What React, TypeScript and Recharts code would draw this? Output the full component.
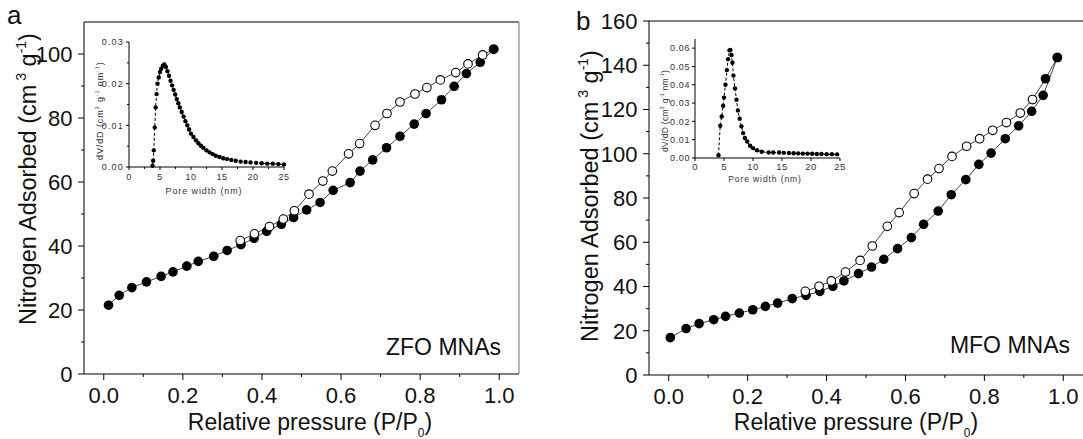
import React from "react";
import { LineChart, Line, XAxis, YAxis, ReferenceLine, Label } from "recharts";

const FONT = "'Liberation Sans', Arial, Helvetica, sans-serif";

// panel a: ZFO MNAs isotherm
const zfoAdsP = [0.012, 0.039, 0.071, 0.108, 0.145, 0.175, 0.21, 0.239, 0.278, 0.312, 0.347, 0.38, 0.412, 0.449, 0.48, 0.513, 0.547, 0.58, 0.623, 0.648, 0.68, 0.715, 0.749, 0.785, 0.815, 0.854, 0.886, 0.917, 0.952, 0.986];
const zfoAdsV = [21.5, 24.6, 27.0, 28.8, 30.5, 31.9, 33.7, 35.2, 36.8, 38.6, 40.4, 42.4, 44.6, 46.8, 48.9, 51.3, 53.6, 57.4, 59.8, 63.4, 66.9, 70.7, 74.3, 78.1, 81.4, 85.7, 89.9, 93.9, 97.4, 101.5];
const zfoDesP = [0.986, 0.958, 0.921, 0.89, 0.851, 0.817, 0.787, 0.749, 0.716, 0.686, 0.647, 0.619, 0.578, 0.554, 0.519, 0.482, 0.454, 0.419, 0.381, 0.345];
const zfoDesV = [101.5, 99.7, 96.9, 94.2, 91.9, 89.5, 87.5, 85.0, 81.4, 77.7, 72.0, 68.8, 63.4, 60.3, 56.2, 51.0, 48.4, 46.1, 43.8, 41.7];
const zfoDesShared = 1; // first desorption points drawn filled

// panel b: MFO MNAs isotherm
const mfoAdsP = [0.004, 0.044, 0.077, 0.114, 0.144, 0.179, 0.213, 0.245, 0.276, 0.313, 0.348, 0.383, 0.416, 0.444, 0.481, 0.514, 0.545, 0.58, 0.615, 0.646, 0.683, 0.716, 0.753, 0.786, 0.817, 0.853, 0.887, 0.92, 0.949, 0.985];
const mfoAdsV = [16.9, 21.0, 23.2, 25.0, 26.5, 28.0, 29.5, 31.0, 32.5, 34.5, 36.0, 37.8, 40.1, 42.5, 45.8, 48.8, 52.3, 57.1, 62.1, 68.1, 74.1, 81.5, 88.3, 95.2, 100.3, 106.8, 112.6, 119.2, 126.4, 143.5];
const mfoDesP = [0.985, 0.955, 0.922, 0.891, 0.856, 0.821, 0.788, 0.755, 0.718, 0.685, 0.656, 0.622, 0.584, 0.554, 0.516, 0.485, 0.448, 0.412, 0.381, 0.346];
const mfoDesV = [143.5, 133.9, 124.5, 118.4, 114.1, 110.6, 106.8, 103.4, 98.8, 93.3, 88.5, 82.0, 73.4, 67.2, 58.3, 51.8, 46.5, 42.5, 40.1, 37.8];
const mfoDesShared = 2;

// insets: pore size distribution
const zfoPoreW = [3.8, 3.9, 4.0, 4.15, 4.3, 4.45, 4.6, 4.8, 5.0, 5.2, 5.45, 5.7, 5.95, 6.2, 6.45, 6.7, 6.95, 7.2, 7.45, 7.7, 7.95, 8.2, 8.5, 8.8, 9.1, 9.4, 9.7, 10.0, 10.4, 10.8, 11.2, 11.6, 12.0, 12.5, 13.0, 13.5, 14.0, 14.6, 15.2, 15.8, 16.5, 17.2, 18.0, 18.8, 19.6, 20.5, 21.4, 22.3, 23.2, 24.1, 25.0];
const zfoPoreD = [0.0003, 0.0015, 0.004, 0.0095, 0.0143, 0.0175, 0.02, 0.0215, 0.0228, 0.0236, 0.0243, 0.0246, 0.024, 0.023, 0.0219, 0.0207, 0.0196, 0.0185, 0.0174, 0.0163, 0.0153, 0.0143, 0.0132, 0.0121, 0.011, 0.01, 0.009, 0.008, 0.0072, 0.0064, 0.0057, 0.0051, 0.0046, 0.004, 0.0035, 0.0031, 0.0027, 0.0024, 0.0021, 0.0019, 0.0017, 0.0015, 0.0013, 0.0012, 0.0011, 0.001, 0.0009, 0.0008, 0.0008, 0.0007, 0.0006];
const mfoPoreW = [4.05, 4.35, 4.6, 4.85, 5.0, 5.25, 5.5, 5.7, 5.95, 6.1, 6.3, 6.45, 6.62, 6.9, 7.15, 7.4, 7.7, 8.0, 8.3, 8.6, 9.0, 9.5, 10.0, 10.7, 11.5, 12.7, 13.5, 14.5, 15.3, 16.2, 17.0, 17.8, 18.6, 19.4, 20.2, 21.0, 21.8, 22.7, 23.6, 24.5];
const mfoPoreD = [0.0015, 0.0176, 0.0227, 0.0285, 0.033, 0.04, 0.048, 0.054, 0.0588, 0.059, 0.0563, 0.052, 0.045, 0.038, 0.0318, 0.026, 0.0215, 0.0173, 0.0136, 0.0109, 0.009, 0.0067, 0.0054, 0.0042, 0.0034, 0.003, 0.003, 0.003, 0.0028, 0.0027, 0.0026, 0.0025, 0.0024, 0.0024, 0.0023, 0.0022, 0.0022, 0.0021, 0.0021, 0.002];

// ticks (majors get labels, the rest are minor)
const pressureTicks = [0, 0.1, 0.2, 0.3, 0.4, 0.5, 0.6, 0.7, 0.8, 0.9, 1.0];
const zfoVolTicks = [0, 10, 20, 30, 40, 50, 60, 70, 80, 90, 100];
const mfoVolTicks = [0, 10, 20, 30, 40, 50, 60, 70, 80, 90, 100, 110, 120, 130, 140, 150, 160];
const zfoWidthTicks = [0, 2.5, 5, 7.5, 10, 12.5, 15, 17.5, 20, 22.5, 25];
const zfoDvTicks = [0, 0.005, 0.01, 0.015, 0.02, 0.025, 0.03];
const mfoWidthTicks = [0, 5, 10, 15, 20, 25];
const mfoDvTicks = [0, 0.01, 0.02, 0.03, 0.04, 0.05, 0.06];

const zip = (xs: number[], ys: number[]) => xs.map((x, i) => ({ x, y: ys[i] }));

const isMajor = (v: number, step: number) => Math.abs(v / step - Math.round(v / step)) < 1e-6;

type TickOpts = { step: number; len: number; minor: number; size: number; gap: number; color: string; digits: number; spacing?: number };

const bottomTick = (o: TickOpts) => (p: any) => {
  const v = p.payload.value;
  const major = isMajor(v, o.step);
  return (
    <g>
      <line x1={p.x} x2={p.x} y1={p.y} y2={p.y + (major ? o.len : o.minor)} stroke="#000" strokeWidth={1} />
      {major && (
        <text x={p.x} y={p.y + o.gap} textAnchor="middle" fontSize={o.size} fontFamily={FONT} fill={o.color} letterSpacing={o.spacing}>
          {v.toFixed(o.digits)}
        </text>
      )}
    </g>
  );
};

const leftTick = (o: TickOpts) => (p: any) => {
  const v = p.payload.value;
  const major = isMajor(v, o.step);
  return (
    <g>
      <line x1={p.x} x2={p.x - (major ? o.len : o.minor)} y1={p.y} y2={p.y} stroke="#000" strokeWidth={1} />
      {major && (
        <text x={p.x - o.gap} y={p.y + o.size * 0.36} textAnchor="end" fontSize={o.size} fontFamily={FONT} fill={o.color} letterSpacing={o.spacing}>
          {v.toFixed(o.digits)}
        </text>
      )}
    </g>
  );
};

const filledDot = (r: number) => (p: any) => <circle key={p.index} cx={p.cx} cy={p.cy} r={r} fill="#000" />;
const openDot = (shared: number) => (p: any) =>
  p.index < shared ? (
    <circle key={p.index} cx={p.cx} cy={p.cy} r={4.8} fill="#000" />
  ) : (
    <circle key={p.index} cx={p.cx} cy={p.cy} r={4.3} fill="#fff" stroke="#000" strokeWidth={1.1} />
  );

const volumeTitle = (x: number, y: number) => () => (
  <text transform={`translate(${x},${y}) rotate(-90)`} fontSize={23.5} fontFamily={FONT} fill="#111">
    Nitrogen Adsorbed (cm
    <tspan dy={-10} fontSize={14}> 3</tspan>
    <tspan dy={10}> g</tspan>
    <tspan dy={-10} fontSize={14}>-1</tspan>
    <tspan dy={10}>)</tspan>
  </text>
);

const pressureTitle = (cx: number, note: string, nx: number, ny: number, letter: string, lx: number, ly: number) => () => (
  <g fontFamily={FONT} fill="#111">
    <text x={cx} y={430} textAnchor="middle" fontSize={23}>
      Relative pressure (P/P
      <tspan dy={7} fontSize={12}>0</tspan>
      <tspan dy={-7}>)</tspan>
    </text>
    <text x={nx} y={ny} textAnchor="end" fontSize={23}>{note}</text>
    <text x={lx} y={ly} fontSize={26}>{letter}</text>
  </g>
);

const dvTitle = (x: number, y: number, size: number, spacing: number) => () => (
  <text transform={`translate(${x},${y}) rotate(-90)`} fontSize={size} fontFamily={FONT} fill="#333" letterSpacing={spacing}>
    dV/dD (cm
    <tspan dy={-4} fontSize={size * 0.6}>3</tspan>
    <tspan dy={4}> g</tspan>
    <tspan dy={-4} fontSize={size * 0.6}>-1</tspan>
    <tspan dy={4}> nm</tspan>
    <tspan dy={-4} fontSize={size * 0.6}>-1</tspan>
    <tspan dy={4}>)</tspan>
  </text>
);

const widthTitle = (cx: number, y: number, size: number, spacing: number) => () => (
  <text x={cx} y={y} textAnchor="middle" fontSize={size} fontFamily={FONT} fill="#333" letterSpacing={spacing}>
    Pore width (nm)
  </text>
);

const mainX: TickOpts = { step: 0.2, len: 6, minor: 3, size: 22, gap: 29, color: "#111", digits: 1 };
const mainY: TickOpts = { step: 20, len: 6, minor: 3, size: 22, gap: 11.5, color: "#111", digits: 0 };

export default function App() {
  const zfoAds = zip(zfoAdsP, zfoAdsV);
  const zfoDes = zip(zfoDesP, zfoDesV);
  const mfoAds = zip(mfoAdsP, mfoAdsV);
  const mfoDes = zip(mfoDesP, mfoDesV);
  const zfoPsd = zip(zfoPoreW, zfoPoreD);
  const mfoPsd = zip(mfoPoreW, mfoPoreD);

  return (
    <div style={{ position: "absolute", left: 0, top: 0, width: 1083, height: 439, background: "#fff", overflow: "hidden" }}>
      {/* panel a */}
      <div style={{ position: "absolute", left: 0, top: 0 }}>
        <LineChart width={540} height={439} margin={{ top: 22, right: 21, bottom: 35, left: 24 }}>
          <XAxis type="number" dataKey="x" domain={[-0.05, 1.05]} ticks={pressureTicks} interval={0} tickSize={0} tickMargin={0} tickLine={false}
            tick={bottomTick(mainX)} axisLine={{ stroke: "#000" }} height={30} allowDataOverflow>
            <Label content={pressureTitle(310, "ZFO MNAs", 501, 355, "a", 7, 24)} />
          </XAxis>
          <YAxis type="number" dataKey="y" domain={[0, 110]} ticks={zfoVolTicks} interval={0} tickSize={0} tickMargin={0} tickLine={false}
            tick={leftTick(mainY)} axisLine={{ stroke: "#000" }} width={60} allowDataOverflow>
            <Label content={volumeTitle(36, 325)} />
          </YAxis>
          <ReferenceLine y={110} stroke="#000" strokeWidth={1} />
          <ReferenceLine x={1.05} stroke="#777" strokeWidth={1} />
          <Line data={zfoAds} dataKey="y" type="linear" stroke="#444" strokeWidth={1} dot={filledDot(4.8)} activeDot={false} isAnimationActive={false} />
          <Line data={zfoDes} dataKey="y" type="linear" stroke="#444" strokeWidth={1} dot={openDot(zfoDesShared)} activeDot={false} isAnimationActive={false} />
        </LineChart>
      </div>
      {/* inset a */}
      <div style={{ position: "absolute", left: 60, top: 20 }}>
        <LineChart width={240} height={190} margin={{ top: 22, right: 16, bottom: 23, left: 29 }}>
          <XAxis type="number" dataKey="x" domain={[0, 25]} ticks={zfoWidthTicks} interval={0} tickSize={0} tickMargin={0} tickLine={false}
            tick={bottomTick({ step: 5, len: 3, minor: 2, size: 9, gap: 12.5, color: "#333", digits: 0, spacing: 0.6 })}
            axisLine={{ stroke: "#000" }} height={20}>
            <Label content={widthTitle(144, 174, 9, 0.9)} />
          </XAxis>
          <YAxis type="number" dataKey="y" domain={[0, 0.03]} ticks={zfoDvTicks} interval={0} tickSize={0} tickMargin={0} tickLine={false}
            tick={leftTick({ step: 0.01, len: 3, minor: 2, size: 9, gap: 5, color: "#333", digits: 2, spacing: 1.2 })}
            axisLine={{ stroke: "#000" }} width={40}>
            <Label content={dvTitle(43, 140, 9, 0.9)} />
          </YAxis>
          <Line data={zfoPsd} dataKey="y" type="linear" stroke="#000" strokeWidth={1} strokeDasharray="3 2" dot={filledDot(2.2)} activeDot={false} isAnimationActive={false} />
        </LineChart>
      </div>
      {/* panel b */}
      <div style={{ position: "absolute", left: 540, top: 0 }}>
        <LineChart width={543} height={439} margin={{ top: 21, right: 0, bottom: 34, left: 49 }}>
          <XAxis type="number" dataKey="x" domain={[-0.05, 1.05]} ticks={pressureTicks} interval={0} tickSize={0} tickMargin={0} tickLine={false}
            tick={bottomTick(mainX)} axisLine={{ stroke: "#000" }} height={30} allowDataOverflow>
            <Label content={pressureTitle(316, "MFO MNAs", 530, 353, "b", 36, 30)} />
          </XAxis>
          <YAxis type="number" dataKey="y" domain={[0, 160]} ticks={mfoVolTicks} interval={0} tickSize={0} tickMargin={0} tickLine={false}
            tick={leftTick(mainY)} axisLine={{ stroke: "#000" }} width={60} allowDataOverflow>
            <Label content={volumeTitle(58, 342)} />
          </YAxis>
          <ReferenceLine y={160} stroke="#000" strokeWidth={1} />
          <Line data={mfoAds} dataKey="y" type="linear" stroke="#444" strokeWidth={1} dot={filledDot(4.8)} activeDot={false} isAnimationActive={false} />
          <Line data={mfoDes} dataKey="y" type="linear" stroke="#444" strokeWidth={1} dot={openDot(mfoDesShared)} activeDot={false} isAnimationActive={false} />
        </LineChart>
      </div>
      {/* inset b */}
      <div style={{ position: "absolute", left: 620, top: 20 }}>
        <LineChart width={240} height={180} margin={{ top: 19, right: 20, bottom: 22, left: 35 }}>
          <XAxis type="number" dataKey="x" domain={[0, 25]} ticks={mfoWidthTicks} interval={0} tickSize={0} tickMargin={0} tickLine={false}
            tick={bottomTick({ step: 5, len: 3, minor: 2, size: 9.5, gap: 11.5, color: "#333", digits: 0, spacing: 0.4 })}
            axisLine={{ stroke: "#000" }} height={20}>
            <Label content={widthTitle(145, 162, 8.5, 0.9)} />
          </XAxis>
          <YAxis type="number" dataKey="y" domain={[0, 0.065]} ticks={mfoDvTicks} interval={0} tickSize={0} tickMargin={0} tickLine={false}
            tick={leftTick({ step: 0.01, len: 3, minor: 2, size: 9, gap: 5, color: "#333", digits: 2, spacing: 0.6 })}
            axisLine={{ stroke: "#000" }} width={40}>
            <Label content={dvTitle(48, 132, 8.5, 0.3)} />
          </YAxis>
          <Line data={mfoPsd} dataKey="y" type="linear" stroke="#000" strokeWidth={1} strokeDasharray="3 2" dot={filledDot(2.2)} activeDot={false} isAnimationActive={false} />
        </LineChart>
      </div>
    </div>
  );
}
